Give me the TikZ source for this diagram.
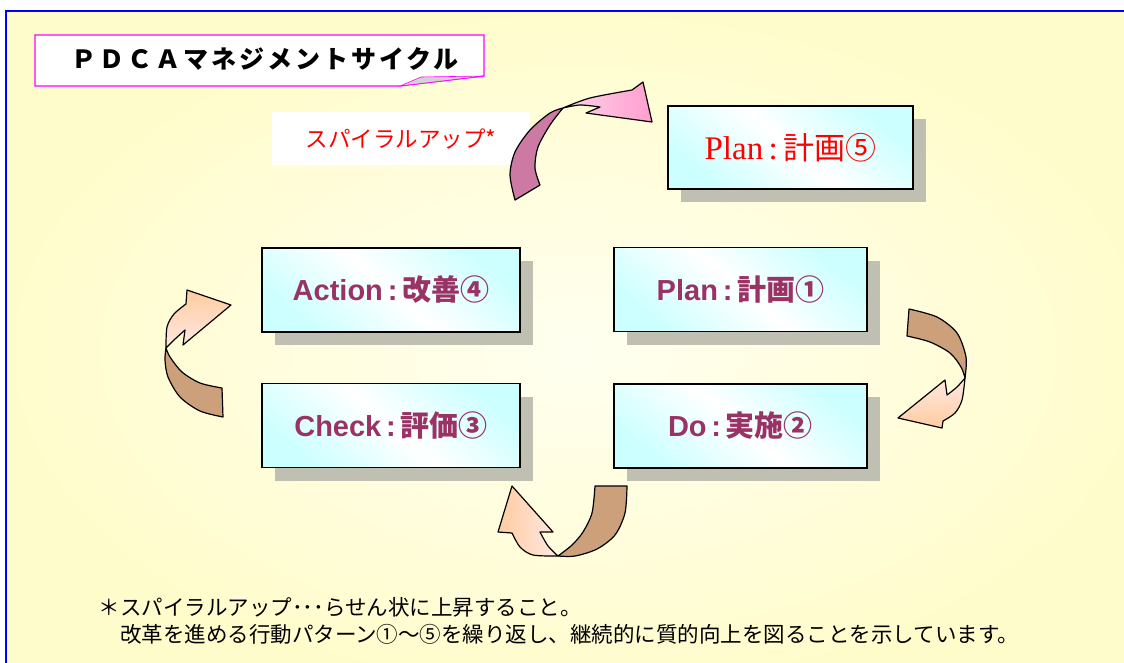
\documentclass[tikz,border=0pt]{standalone}
\usepackage{fontspec}
\setmainfont{Liberation Serif}
\setsansfont{Liberation Sans}
\newfontfamily\jp{Noto Sans CJK JP}
\usetikzlibrary{positioning}
\usetikzlibrary{shadows}
\definecolor{frameblue}{RGB}{0,0,255}
\definecolor{paleyellow}{RGB}{255,252,204}
\definecolor{lightyellow}{RGB}{255,255,240}
\definecolor{titlemagenta}{RGB}{255,0,255}
\definecolor{boxcyan}{RGB}{204,255,255}
\definecolor{shadowgray}{RGB}{192,192,178}
\definecolor{cyclepurple}{RGB}{153,51,102}
\definecolor{tanband}{RGB}{204,160,122}
\definecolor{peach}{RGB}{255,204,160}
\definecolor{palepeach}{RGB}{255,232,226}
\definecolor{mauve}{RGB}{204,122,163}
\definecolor{pinklight}{RGB}{255,212,234}
\definecolor{pinkdeep}{RGB}{255,158,206}
\newcommand{\steplabel}[2]{{\sffamily\bfseries #1\,:\,}{\jp\bfseries #2}}

\begin{document}
\begin{tikzpicture}[x=1pt,y=-1pt,
	stepbox/.style={draw,line width=1.2pt,minimum width=253pt,minimum height=84pt,
		left color=boxcyan,right color=boxcyan,middle color=white,shading angle=-40,
		drop shadow={shadow xshift=13pt,shadow yshift=-13pt,fill=shadowgray,opacity=1},
		text=cyclepurple,font=\fontsize{29}{33}\selectfont},
	band/.style={draw,line width=1.2pt,line join=round}]
	\useasboundingbox (0,0) rectangle (1124,662);
	\clip (0,0) rectangle (1124,662);
	\fill[white] (0,0) rectangle (1124,662);
	\path[draw=frameblue,line width=2pt,inner color=lightyellow,outer color=paleyellow] (6,11) rectangle (1150,690);
	
	\path[draw=titlemagenta,line width=1.2pt,fill=white] (35,35) -- (484,35) -- (484,76) -- (400,86) -- (35,86) -- cycle;
	\path[draw=titlemagenta,line width=0.6pt,fill=gray!35] (400,86) -- (421,77) -- (484,76) -- cycle;
	\node[font=\jp\bfseries\fontsize{25}{29}\selectfont\addfontfeature{LetterSpace=12}] (title) at (265,59) {ＰＤＣＡマネジメントサイクル};
	
	\node[fill=white,minimum width=258pt,minimum height=53pt,text=red,font=\jp\fontsize{22.5}{26}\selectfont] (spiralup) at (401,138.5) {スパイラルアップ*};
	
	\node[stepbox,minimum width=245pt,minimum height=83pt,text=red,font=\rmfamily\fontsize{33}{37}\selectfont] (plan5) at (790.5,147.5) {Plan\,:\,{\jp\fontsize{31}{35}\selectfont 計画⑤}};
	\node[stepbox,minimum width=258pt] (action4) at (391,290) {\steplabel{Action}{改善④}};
	\node[stepbox,minimum width=258pt] (check3) at (391,425.5) {\steplabel{Check}{評価③}};
	\node[stepbox] (plan1) at (740.5,289.5) {\steplabel{Plan}{計画①}};
	\node[stepbox] (do2) at (740.5,426) {\steplabel{Do}{実施②}};
	
	\path[band,fill=mauve] plot[smooth] coordinates {(515,200) (510,175) (515,152) (530,130) (550,113) (563,108)}
		-- plot[smooth] coordinates {(563,108) (550,125) (538,147) (535,168) (540,185)} -- cycle;
	\path[band,left color=pinklight,right color=pinkdeep] plot[smooth] coordinates {(563,108) (590,98) (632,90)}
		-- (643,82) -- (652,122) -- (586,113) -- (600,107)
		-- plot[smooth] coordinates {(600,107) (580,105) (563,108)} -- cycle;
	
	\path[band,fill=tanband] plot[smooth] coordinates {(909,309) (937,317) (957,333) (966,357) (965,378)}
		-- plot[smooth] coordinates {(965,378) (961,367) (950,353) (930,342) (907,336)} -- cycle;
	\path[band,top color=palepeach,bottom color=peach] plot[smooth] coordinates {(965,378) (962,400) (955,413) (943,421)}
		-- (942,428) -- (898,418) -- (945,380) -- (947,395)
		-- plot[smooth] coordinates {(947,395) (957,387) (965,378)} -- cycle;
	
	\path[band,fill=tanband] plot[smooth] coordinates {(595,486) (592,513) (583,532) (572,545) (558,556)}
		-- plot[smooth] coordinates {(558,556) (575,556) (597,549) (615,535) (625,513) (627,486)} -- cycle;
	\path[band,left color=peach,right color=palepeach] plot[smooth] coordinates {(558,556) (533,555) (520,547) (512,533)}
		-- (498,532) -- (512,486) -- (553,532) -- (540,532)
		-- plot[smooth] coordinates {(540,532) (548,546) (558,556)} -- cycle;
	
	\path[band,fill=tanband] plot[smooth] coordinates {(222,388) (200,383) (182,372) (170,357) (166,348)}
		-- plot[smooth] coordinates {(166,348) (165,360) (168,377) (180,397) (200,411) (223,417)} -- cycle;
	\path[band,top color=peach,bottom color=palepeach] plot[smooth] coordinates {(166,348) (167,327) (174,314) (186,304)}
		-- (187,290) -- (231,305) -- (183,345) -- (185,330)
		-- plot[smooth] coordinates {(185,330) (174,340) (166,348)} -- cycle;
	
	\node[anchor=west,align=left,font=\jp\fontsize{21.5}{27}\selectfont] (note) at (95,620.5) {＊スパイラルアップ･･･らせん状に上昇すること。\\\hspace*{1em}改革を進める行動パターン①～⑤を繰り返し、継続的に質的向上を図ることを示しています。};
\end{tikzpicture}
\end{document}
